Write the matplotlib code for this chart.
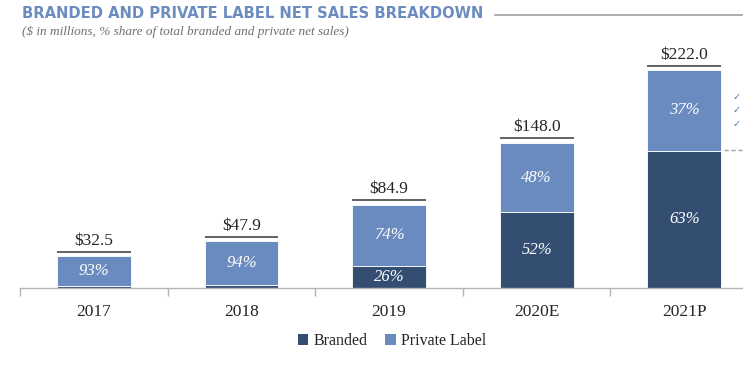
import matplotlib
matplotlib.use("Agg")
import matplotlib.pyplot as plt
from matplotlib.lines import Line2D
from matplotlib.patches import Patch

# ---- data ----
years = ["2017", "2018", "2019", "2020E", "2021P"]
totals = [32.5, 47.9, 84.9, 148.0, 222.0]
branded_pct = [7, 6, 26, 52, 63]
private_pct = [93, 94, 74, 48, 37]
show_branded_label = [False, False, True, True, True]

PRIVATE, BRANDED = "#6a8bbf", "#344e72"
TITLE_C, INK = "#6b8cc0", "#262626"
SERIF = ["Liberation Serif", "DejaVu Serif"]

W, H = 743, 367
fig = plt.figure(figsize=(W / 100, H / 100), dpi=100)

# axes placed in pixel terms: baseline at y=288, left edge at x=20
ax = fig.add_axes([20 / W, (H - 288) / H, (W - 20) / W, 248 / H])
px_per_unit = 147.6
for s in ("top", "right", "left"):
    ax.spines[s].set_visible(False)
ax.spines["bottom"].set_color("#b5b5b5")
ax.spines["bottom"].set_linewidth(1.0)
ax.set_yticks([])
ax.set_xticks([i - 0.5 for i in range(len(years) + 1)])
ax.set_xticklabels([])
ax.tick_params(axis="x", length=6, color="#b5b5b5", width=1.0)
ax.set_xlim(-0.5, -0.5 + (W - 20) / px_per_unit)
ax.set_ylim(0, 248 / 0.982)

x = list(range(len(years)))
bvals = [t * b / 100 for t, b in zip(totals, branded_pct)]
pvals = [t * p / 100 for t, p in zip(totals, private_pct)]
bw = 0.5
ax.bar(x, bvals, width=bw, color=BRANDED, edgecolor="white", linewidth=0.6)
ax.bar(x, pvals, width=bw, bottom=bvals, color=PRIVATE, edgecolor="white", linewidth=0.6)

for i, t in enumerate(totals):
    ax.hlines(t + 4.5, i - bw / 2, i + bw / 2, color="#555555", linewidth=1.3)
    ax.text(i, t + 7.5, f"${t:.1f}", ha="center", va="bottom", fontsize=12.5,
            color=INK, family=SERIF)
    ax.text(i, bvals[i] + pvals[i] / 2, f"{private_pct[i]}%", ha="center", va="center",
            fontsize=12, color="white", style="italic", family=SERIF)
    if show_branded_label[i]:
        ax.text(i, bvals[i] / 2, f"{branded_pct[i]}%", ha="center", va="center",
                fontsize=12, color="white", style="italic", family=SERIF)
    ax.text(i, -24, years[i], ha="center", va="center", fontsize=12.5,
            color=INK, family=SERIF)

# title + subtitle
fig.text(22 / W, 1 - 14 / H, "BRANDED AND PRIVATE LABEL NET SALES BREAKDOWN",
         ha="left", va="center", fontsize=11.8, fontweight="bold", color=TITLE_C,
         family="DejaVu Sans", fontstretch="condensed")
fig.add_artist(Line2D([495 / W, 1], [1 - 15 / H] * 2, color="#a0a0a0", linewidth=1.2))
fig.text(22 / W, 1 - 32 / H, "($ in millions, % share of total branded and private net sales)",
         ha="left", va="center", fontsize=9.5, style="italic", color="#6e6e6e", family=SERIF)

# cropped slide remnants at right edge
for yy in (97, 110, 124):
    fig.text(733 / W, 1 - yy / H, "\u2713", ha="left", va="center", fontsize=7,
             color="#4a74b8", family=["DejaVu Sans"])
fig.add_artist(Line2D([724 / W, 1], [1 - 150 / H] * 2, color="#a0a0a0",
                      linewidth=1.0, linestyle=(0, (3, 2))))

# legend
handles = [Patch(facecolor=BRANDED, label="Branded"),
           Patch(facecolor=PRIVATE, label="Private Label")]
fig.legend(handles=handles, loc="center", bbox_to_anchor=(392 / W, 1 - 341 / H),
           ncol=2, frameon=False, handlelength=0.65, handleheight=0.65,
           handletextpad=0.35, columnspacing=1.1,
           prop={"family": SERIF, "size": 11.5}, labelcolor=INK)

fig.savefig("out.png", dpi=100)
